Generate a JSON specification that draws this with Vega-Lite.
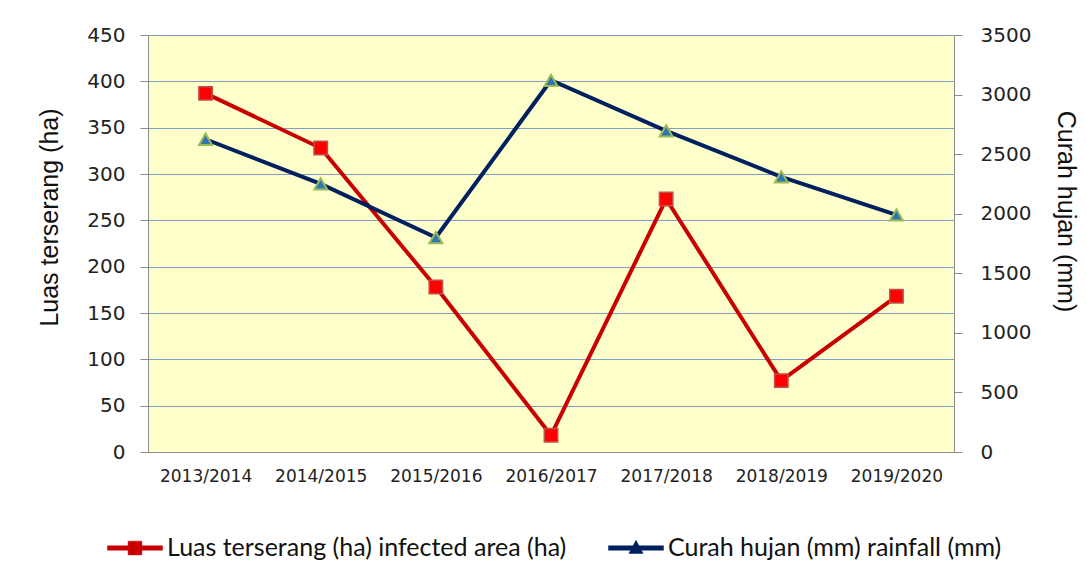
{
  "$schema": "https://vega.github.io/schema/vega-lite/v6.json",
  "autosize": "none",
  "width": 806,
  "height": 417,
  "padding": {"left": 148, "top": 35, "right": 132, "bottom": 129},
  "background": "white",
  "data": {"values": [
    {"year": "2013/2014", "luas": 387, "curah": 2625},
    {"year": "2014/2015", "luas": 328, "curah": 2250},
    {"year": "2015/2016", "luas": 178, "curah": 1800},
    {"year": "2016/2017", "luas": 18, "curah": 3120},
    {"year": "2017/2018", "luas": 273, "curah": 2695},
    {"year": "2018/2019", "luas": 77, "curah": 2310},
    {"year": "2019/2020", "luas": 168, "curah": 1990}
  ]},
  "encoding": {
    "x": {"field": "year", "type": "ordinal", "sort": null,
      "scale": {"type": "point", "padding": 0.5},
      "axis": {"title": null, "labelAngle": 0, "ticks": false, "grid": false, "domainColor": "#8c8c8c",
        "labelFont": "DejaVu Sans", "labelFontSize": 17, "labelColor": "#222", "labelPadding": 16}}
  },
  "layer": [
    {
      "encoding": {
        "y": {"type": "quantitative",
          "scale": {"domain": [0, 450], "nice": false},
          "axis": {"title": "Luas terserang (ha)", "values": [0,50,100,150,200,250,300,350,400,450],
            "orient": "left", "grid": true, "gridColor": "#7f9fc8", "gridWidth": 1,
            "domainColor": "#8c8c8c", "tickColor": "#8c8c8c", "tickSize": 8,
            "labelFont": "DejaVu Sans", "labelFontSize": 20, "labelColor": "#222", "labelPadding": 15,
            "titleFont": "Liberation Sans", "titleFontSize": 25, "titleFontWeight": "normal", "titleColor": "#111", "titlePadding": 24, "titleY": 182}}
      },
      "layer": [
        {"mark": {"type": "line", "strokeWidth": 4},
          "encoding": {"y": {"field": "luas"}, "color": {"datum": "Luas terserang (ha) infected area (ha)",
            "scale": {"domain": ["Luas terserang (ha) infected area (ha)", "Curah hujan (mm) rainfall (mm)"], "range": ["#c80000", "#002060"]},
            "legend": {"orient": "none", "legendX": -41, "legendY": 485, "direction": "horizontal", "title": null,
              "padding": 0, "symbolSize": 3025, "labelOffset": 4, "columnPadding": 40, "labelLimit": 1000,
              "labelFont": "Lato", "labelFontSize": 25, "labelColor": "#111",
              "encode": {"symbols": {"update": {
                "fill": {"scale": "color", "field": "value"},
                "stroke": {"scale": "color", "field": "value"},
                "strokeWidth": {"value": 0.5},
                "shape": {"signal": "datum.index === 0 ? 'M-1,-0.08H1V0.08H-1Z M-0.25,-0.25H0.25V0.25H-0.25Z' : 'M-1,-0.08H1V0.08H-1Z M0,-0.28L0.26,0.2H-0.26Z'"}
              }}}}}}},
        {"mark": {"type": "point", "shape": "square", "filled": true, "fill": "#ff0000", "stroke": "#c0504d", "strokeWidth": 1.5, "size": 180, "opacity": 1},
          "encoding": {"y": {"field": "luas"}}}
      ]
    },
    {
      "encoding": {
        "y": {"type": "quantitative",
          "scale": {"domain": [0, 3500], "nice": false},
          "axis": {"title": "Curah hujan (mm)", "values": [0,500,1000,1500,2000,2500,3000,3500], "format": "d",
            "orient": "right", "grid": false,
            "domainColor": "#8c8c8c", "tickColor": "#8c8c8c", "tickSize": 8,
            "labelFont": "DejaVu Sans", "labelFontSize": 20, "labelColor": "#222", "labelPadding": 18,
            "titleFont": "Liberation Sans", "titleFontSize": 25, "titleFontWeight": "normal", "titleColor": "#111", "titlePadding": 22, "titleY": 176}}
      },
      "layer": [
        {"mark": {"type": "line", "strokeWidth": 4},
          "encoding": {"y": {"field": "curah"}, "color": {"datum": "Curah hujan (mm) rainfall (mm)"}}},
        {"mark": {"type": "point", "shape": "triangle-up", "filled": true, "fill": "#2e75b6", "stroke": "#9bbb59", "strokeWidth": 2, "size": 170, "opacity": 1},
          "encoding": {"y": {"field": "curah"}}}
      ]
    }
  ],
  "resolve": {"scale": {"y": "independent"}},
  "config": {
    "view": {"fill": "#ffffcc", "stroke": null}
  }
}
